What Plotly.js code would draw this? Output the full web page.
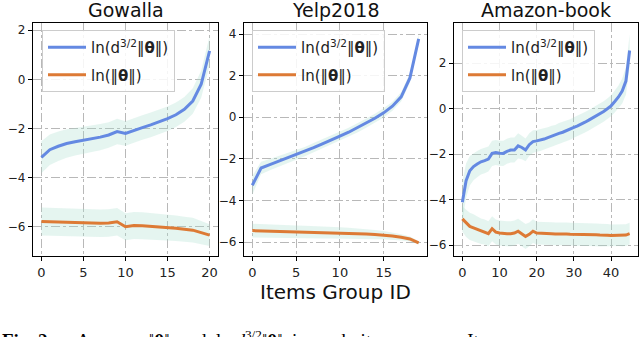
<!DOCTYPE html>
<html>
<head>
<meta charset="utf-8">
<script src="https://cdn.plot.ly/plotly-3.0.1.min.js"></script>
<style>
html,body{margin:0;padding:0;background:#fff;}
#chart{width:640px;height:337px;}
</style>
</head>
<body>
<div id="chart"></div>
<script>
// ---- data ----
const panelTitles = ["Gowalla", "Yelp2018", "Amazon-book"];
const legendNames = ["ln(d<sup>3/2</sup>‖<b>θ</b>‖)", "ln(‖<b>θ</b>‖)"];
const xAxisTitle = "Items Group ID";

const gowBlue = [-3.17,-2.86,-2.72,-2.61,-2.54,-2.48,-2.41,-2.35,-2.26,-2.12,-2.2,-2.07,-1.96,-1.85,-1.74,-1.6,-1.44,-1.22,-0.88,-0.2,1.16];
const gowBlueSpread = [0.65,0.62,0.6,0.58,0.56,0.55,0.54,0.53,0.52,0.52,0.5,0.5,0.5,0.5,0.5,0.5,0.5,0.5,0.52,0.55,0.6];
const gowOrange = [-5.78,-5.79,-5.8,-5.82,-5.83,-5.85,-5.85,-5.85,-5.84,-5.79,-5.99,-5.94,-5.95,-5.97,-5.99,-6.01,-6.05,-6.09,-6.13,-6.23,-6.33];
const gowOrangeSpread = [0.57,0.57,0.57,0.57,0.57,0.56,0.56,0.56,0.56,0.56,0.55,0.55,0.55,0.54,0.54,0.53,0.52,0.51,0.5,0.47,0.44];

const yelpBlue = [-3.27,-2.44,-2.28,-2.12,-1.96,-1.81,-1.65,-1.46,-1.28,-1.11,-0.91,-0.72,-0.51,-0.29,-0.05,0.21,0.53,0.98,1.89,3.77];
const yelpBlueSpread = [0.45,0.3,0.27,0.25,0.24,0.23,0.22,0.22,0.22,0.22,0.22,0.22,0.22,0.22,0.22,0.22,0.22,0.22,0.22,0.22];
const yelpOrange = [-5.45,-5.46,-5.47,-5.48,-5.49,-5.51,-5.52,-5.53,-5.54,-5.55,-5.56,-5.57,-5.59,-5.61,-5.64,-5.67,-5.71,-5.77,-5.85,-6.04];
const yelpOrangeSpread = [0.33,0.33,0.32,0.32,0.31,0.31,0.3,0.3,0.29,0.28,0.27,0.26,0.25,0.24,0.22,0.2,0.18,0.15,0.12,0.08];

const amzBlue = [-4.12,-3.17,-2.73,-2.55,-2.44,-2.34,-2.29,-2.22,-1.97,-1.93,
  -1.96,-1.97,-1.88,-1.82,-1.82,-1.64,-1.71,-1.82,-1.59,-1.45,
  -1.42,-1.39,-1.34,-1.28,-1.21,-1.17,-1.09,-1.04,-0.98,-0.92,
  -0.83,-0.76,-0.69,-0.6,-0.51,-0.42,-0.34,-0.25,-0.13,-0.01,
  0.12,0.31,0.51,0.77,1.21,2.55];
const amzBlueSpread = [0.9,0.75,0.65,0.6,0.58,0.56,0.55,0.55,0.55,0.55,
  0.55,0.55,0.55,0.55,0.55,0.55,0.52,0.5,0.5,0.5,
  0.48,0.48,0.46,0.46,0.45,0.45,0.45,0.45,0.45,0.45,
  0.45,0.45,0.45,0.45,0.45,0.45,0.45,0.45,0.45,0.45,
  0.46,0.48,0.5,0.55,0.6,0.7];
const amzOrange = [-4.85,-5.04,-5.18,-5.24,-5.31,-5.39,-5.43,-5.5,-5.28,-5.43,
  -5.47,-5.5,-5.5,-5.5,-5.47,-5.39,-5.5,-5.62,-5.53,-5.39,
  -5.47,-5.47,-5.5,-5.5,-5.5,-5.51,-5.5,-5.52,-5.51,-5.52,
  -5.52,-5.53,-5.52,-5.53,-5.54,-5.55,-5.55,-5.56,-5.55,-5.57,
  -5.58,-5.57,-5.56,-5.57,-5.56,-5.5];
const amzOrangeSpread = [0.55,0.6,0.6,0.6,0.58,0.56,0.55,0.55,0.55,0.55,
  0.55,0.55,0.55,0.55,0.55,0.55,0.55,0.55,0.52,0.52,
  0.5,0.5,0.5,0.5,0.5,0.5,0.5,0.5,0.5,0.5,
  0.5,0.5,0.5,0.5,0.5,0.5,0.5,0.5,0.5,0.5,
  0.48,0.48,0.48,0.48,0.48,0.48];

// ---- styling ----
const BLUE = "#6489e2";
const ORANGE = "#dd7a35";
const BAND = "rgba(170,222,205,0.30)";
const FONT = "DejaVu Sans";

const panels = [
  {blue: gowBlue, bs: gowBlueSpread, orange: gowOrange, os: gowOrangeSpread, xa: "x", ya: "y", lg: "legend"},
  {blue: yelpBlue, bs: yelpBlueSpread, orange: yelpOrange, os: yelpOrangeSpread, xa: "x2", ya: "y2", lg: "legend2"},
  {blue: amzBlue, bs: amzBlueSpread, orange: amzOrange, os: amzOrangeSpread, xa: "x3", ya: "y3", lg: "legend3"}
];

const traces = [];
panels.forEach((p, i) => {
  const xs = p.blue.map((_, k) => k);
  const bands = [[p.blue, p.bs], [p.orange, p.os]];
  bands.forEach(([m, s]) => {
    traces.push({x: xs, y: m.map((v, k) => v + s[k]), xaxis: p.xa, yaxis: p.ya, mode: "lines",
      line: {width: 0, color: BAND}, showlegend: false, hoverinfo: "skip"});
    traces.push({x: xs, y: m.map((v, k) => v - s[k]), xaxis: p.xa, yaxis: p.ya, mode: "lines",
      line: {width: 0, color: BAND}, fill: "tonexty", fillcolor: BAND, showlegend: false, hoverinfo: "skip"});
  });
  traces.push({x: xs, y: p.blue, xaxis: p.xa, yaxis: p.ya, mode: "lines", name: legendNames[0],
    line: {color: BLUE, width: 3}, legend: p.lg, legendgroup: "b" + i});
  traces.push({x: xs, y: p.orange, xaxis: p.xa, yaxis: p.ya, mode: "lines", name: legendNames[1],
    line: {color: ORANGE, width: 3}, legend: p.lg, legendgroup: "o" + i});
});

function xax(domain, range, dtick, anchor) {
  return {domain, range, dtick, anchor, showgrid: true, gridcolor: "#b8b8b8", griddash: "dashdot", gridwidth: 1,
    zeroline: false, showline: true, mirror: true, linecolor: "#000", linewidth: 1.2,
    ticks: "outside", ticklen: 4, tickcolor: "#000", tickfont: {family: FONT, size: 13, color: "#222"}};
}
function yax(range, anchor) {
  return {range, dtick: 2, anchor, showgrid: true, gridcolor: "#b8b8b8", griddash: "dashdot", gridwidth: 1,
    zeroline: false, showline: true, mirror: true, linecolor: "#000", linewidth: 1.2,
    ticks: "outside", ticklen: 4, tickcolor: "#000", tickfont: {family: FONT, size: 12, color: "#222"}};
}
function leg(x) {
  return {x, y: 0.97, xanchor: "left", yanchor: "top", bgcolor: "rgba(255,255,255,0.85)",
    bordercolor: "#cccccc", borderwidth: 1, font: {family: FONT, size: 15, color: "#222"},
    tracegroupgap: 5, itemwidth: 38};
}

const W = 605, H = 233; // plot-area size in px (margins below)
const px = v => (v - 33) / W;
const py = v => (256 - v) / H;

const caption = "<b>Fig. 2:</b>&nbsp;&nbsp;&nbsp;&nbsp; Average &nbsp;‖<b>θ</b>‖ &nbsp;and &nbsp;ln <i>d</i><sup>3/2</sup>‖<b>θ</b>‖ &nbsp;in &nbsp;each &nbsp;item &nbsp;group. &nbsp;&nbsp;Items";

const layout = {
  width: 640, height: 337,
  margin: {l: 33, r: 2, t: 23, b: 81},
  paper_bgcolor: "#fff", plot_bgcolor: "#fff",
  font: {family: FONT},
  xaxis: xax([0, px(218)], [-1, 21], 5, "y"),
  yaxis: yax([-7.18, 2.29], "x"),
  xaxis2: xax([px(244), px(427)], [-0.95, 19.95], 5, "y2"),
  yaxis2: yax([-6.67, 4.53], "x2"),
  xaxis3: xax([px(454), 1], [-2.25, 47.25], 10, "y3"),
  yaxis3: yax([-6.48, 3.76], "x3"),
  legend: leg(px(42)),
  legend2: leg(px(252)),
  legend3: leg(px(462)),
  annotations: [
    {text: panelTitles[0], xref: "paper", yref: "paper", x: px(125.5), y: py(23), xanchor: "center", yanchor: "bottom", showarrow: false, font: {family: FONT, size: 19, color: "#111"}},
    {text: panelTitles[1], xref: "paper", yref: "paper", x: px(335.5), y: py(23), xanchor: "center", yanchor: "bottom", showarrow: false, font: {family: FONT, size: 19, color: "#111"}},
    {text: panelTitles[2], xref: "paper", yref: "paper", x: px(546), y: py(23), xanchor: "center", yanchor: "bottom", showarrow: false, font: {family: FONT, size: 19, color: "#111"}},
    {text: xAxisTitle, xref: "paper", yref: "paper", x: px(335.5), y: py(278), xanchor: "center", yanchor: "top", showarrow: false, font: {family: FONT, size: 20, color: "#111"}},
    {text: caption, xref: "paper", yref: "paper", x: px(0), y: py(325), xanchor: "left", yanchor: "top", showarrow: false, font: {family: "Liberation Serif", size: 19, color: "#000"}}
  ]
};

Plotly.newPlot("chart", traces, layout, {displayModeBar: false, staticPlot: true});
</script>
</body>
</html>
